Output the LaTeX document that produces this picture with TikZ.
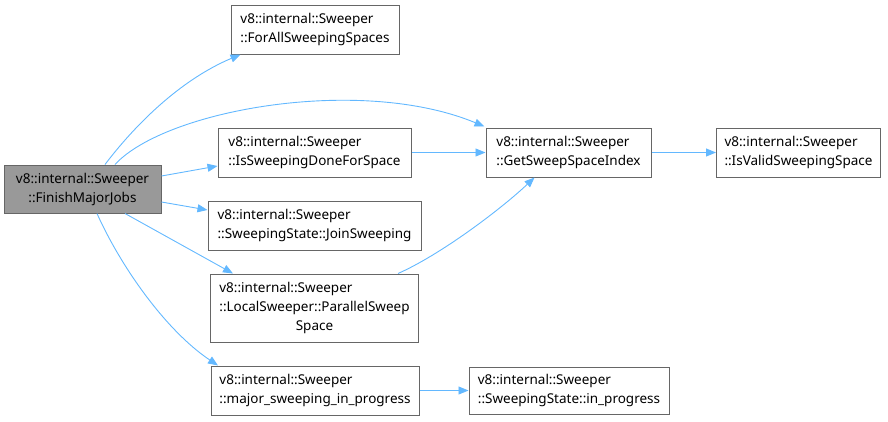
\documentclass[tikz,border=0pt]{standalone}
\usepackage{fontspec}
\setmainfont{Noto Sans}
\usetikzlibrary{arrows.meta,calc}
\definecolor{edgec}{HTML}{63B8FF}
\definecolor{boxc}{HTML}{666666}
\definecolor{mainf}{HTML}{999999}
\begin{document}
\begin{tikzpicture}[x=1pt,y=1pt,
  box/.style={draw=boxc,line width=1pt,fill=white,rectangle,inner sep=0pt,align=left,
    font=\fontsize{13.5}{19}\selectfont},
  edge/.style={draw=edgec,line width=0.9pt,-{Triangle[length=10pt,width=8pt]}}]
\useasboundingbox (0,0) rectangle (888,-421);
\node[box,fill=mainf,minimum width=157,minimum height=48] (main) at (82.5,-189) {v8::internal::Sweeper\\\hfill::FinishMajorJobs\hfill\null};
\node[box,minimum width=168,minimum height=49] (forall) at (315,-29.5) {v8::internal::Sweeper\\::ForAllSweepingSpaces};
\node[box,minimum width=193,minimum height=49] (isdone) at (314.5,-152.5) {v8::internal::Sweeper\\::IsSweepingDoneForSpace};
\node[box,minimum width=213,minimum height=49] (join) at (314.5,-225.5) {v8::internal::Sweeper\\::SweepingState::JoinSweeping};
\node[box,minimum width=208,minimum height=68] (par) at (314.5,-308) {v8::internal::Sweeper\\::LocalSweeper::ParallelSweep\\\hfill Space\hfill\null};
\node[box,minimum width=208,minimum height=49] (major) at (315,-390.5) {v8::internal::Sweeper\\::major\_sweeping\_in\_progress};
\node[box,minimum width=165,minimum height=49] (get) at (568.5,-152.5) {v8::internal::Sweeper\\::GetSweepSpaceIndex};
\node[box,minimum width=164,minimum height=49] (valid) at (798.5,-152.5) {v8::internal::Sweeper\\::IsValidSweepingSpace};
\node[box,minimum width=200,minimum height=47] (inprog) at (569,-390.5) {v8::internal::Sweeper\\::SweepingState::in\_progress};

\draw[edge] ($(main.north)+(22.5,0)$) .. controls (135,-125) and (180,-80) .. ($(forall.south west)+(10,0)$);
\draw[edge] ($(main.north)+(32.5,0)$) .. controls (165,-110) and (360,-75) .. ($(get.north west)+(-1,1)$);
\draw[edge] ($(main.east)+(0,13)$) -- ($(isdone.west)+(0,-13.5)$);
\draw[edge] ($(main.east)+(0,-13)$) -- ($(join.west)+(0,15.5)$);
\draw[edge] ($(main.south)+(42.5,0)$) -- ($(par.north)+(-81.5,0)$);
\draw[edge] ($(main.south)+(14.5,0)$) .. controls (120,-265) and (165,-330) .. ($(major.north)+(-97,0)$);
\draw[edge] (isdone.east) -- (get.west);
\draw[edge] ($(par.north)+(83.5,0)$) .. controls (440,-255) and (500,-210) .. ($(get.south)+(-34,0)$);
\draw[edge] (get.east) -- (valid.west);
\draw[edge] (major.east) -- (inprog.west);
\end{tikzpicture}
\end{document}
